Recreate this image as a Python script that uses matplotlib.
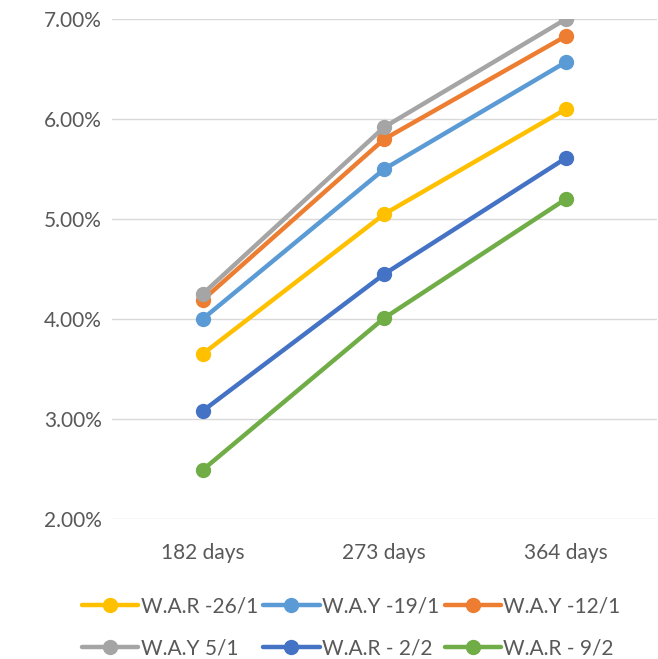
import matplotlib.pyplot as plt
from matplotlib.ticker import FuncFormatter

categories = ["182 days", "273 days", "364 days"]
series_names = ["W.A.R -26/1", "W.A.Y -19/1", "W.A.Y -12/1",
                "W.A.Y 5/1", "W.A.R - 2/2", "W.A.R - 9/2"]
war_26_1 = [3.65, 5.05, 6.10]
way_19_1 = [4.00, 5.50, 6.57]
way_12_1 = [4.19, 5.80, 6.83]
way_5_1 = [4.25, 5.92, 7.00]
war_2_2 = [3.08, 4.45, 5.61]
war_9_2 = [2.49, 4.01, 5.20]
colors = ["#FFC000", "#5B9BD5", "#ED7D31", "#A5A5A5", "#4472C4", "#70AD47"]

plt.rcParams["font.family"] = ["Lato", "DejaVu Sans"]

fig = plt.figure(figsize=(6.58, 6.59), dpi=100)
ax = fig.add_axes([0.170, 0.2125, 0.828, 0.7585])

x = range(len(categories))
all_series = [war_26_1, way_19_1, way_12_1, way_5_1, war_2_2, war_9_2]
lines = []
for name, vals, c in zip(series_names, all_series, colors):
    ln, = ax.plot(x, vals, color=c, lw=3.2, marker="o", ms=10, label=name,
                  solid_capstyle="round")
    lines.append(ln)

ax.set_xlim(-0.5, 2.5)
ax.set_ylim(2, 7)
ax.set_yticks([2, 3, 4, 5, 6, 7])
ax.yaxis.set_major_formatter(FuncFormatter(lambda v, p: f"{v:.2f}%"))
ax.set_xticks(list(x))
ax.set_xticklabels(categories)
ax.grid(axis="y", color="#D9D9D9", lw=1)
ax.set_axisbelow(True)
for s in ax.spines.values():
    s.set_visible(False)
ax.tick_params(length=0, labelsize=15, colors="#595959", pad=7)
ax.tick_params(axis="x", pad=17)

# legend fills by column, so reorder to read row by row
order = [0, 3, 1, 4, 2, 5]
fig.legend([lines[i] for i in order], [series_names[i] for i in order],
           loc="lower center", bbox_to_anchor=(0.534, -0.027), ncol=3,
           frameon=False, fontsize=15, handlelength=2.7, columnspacing=0.25,
           handletextpad=0.12, labelspacing=1.05, labelcolor="#595959")

fig.savefig("out.png", dpi=100)
